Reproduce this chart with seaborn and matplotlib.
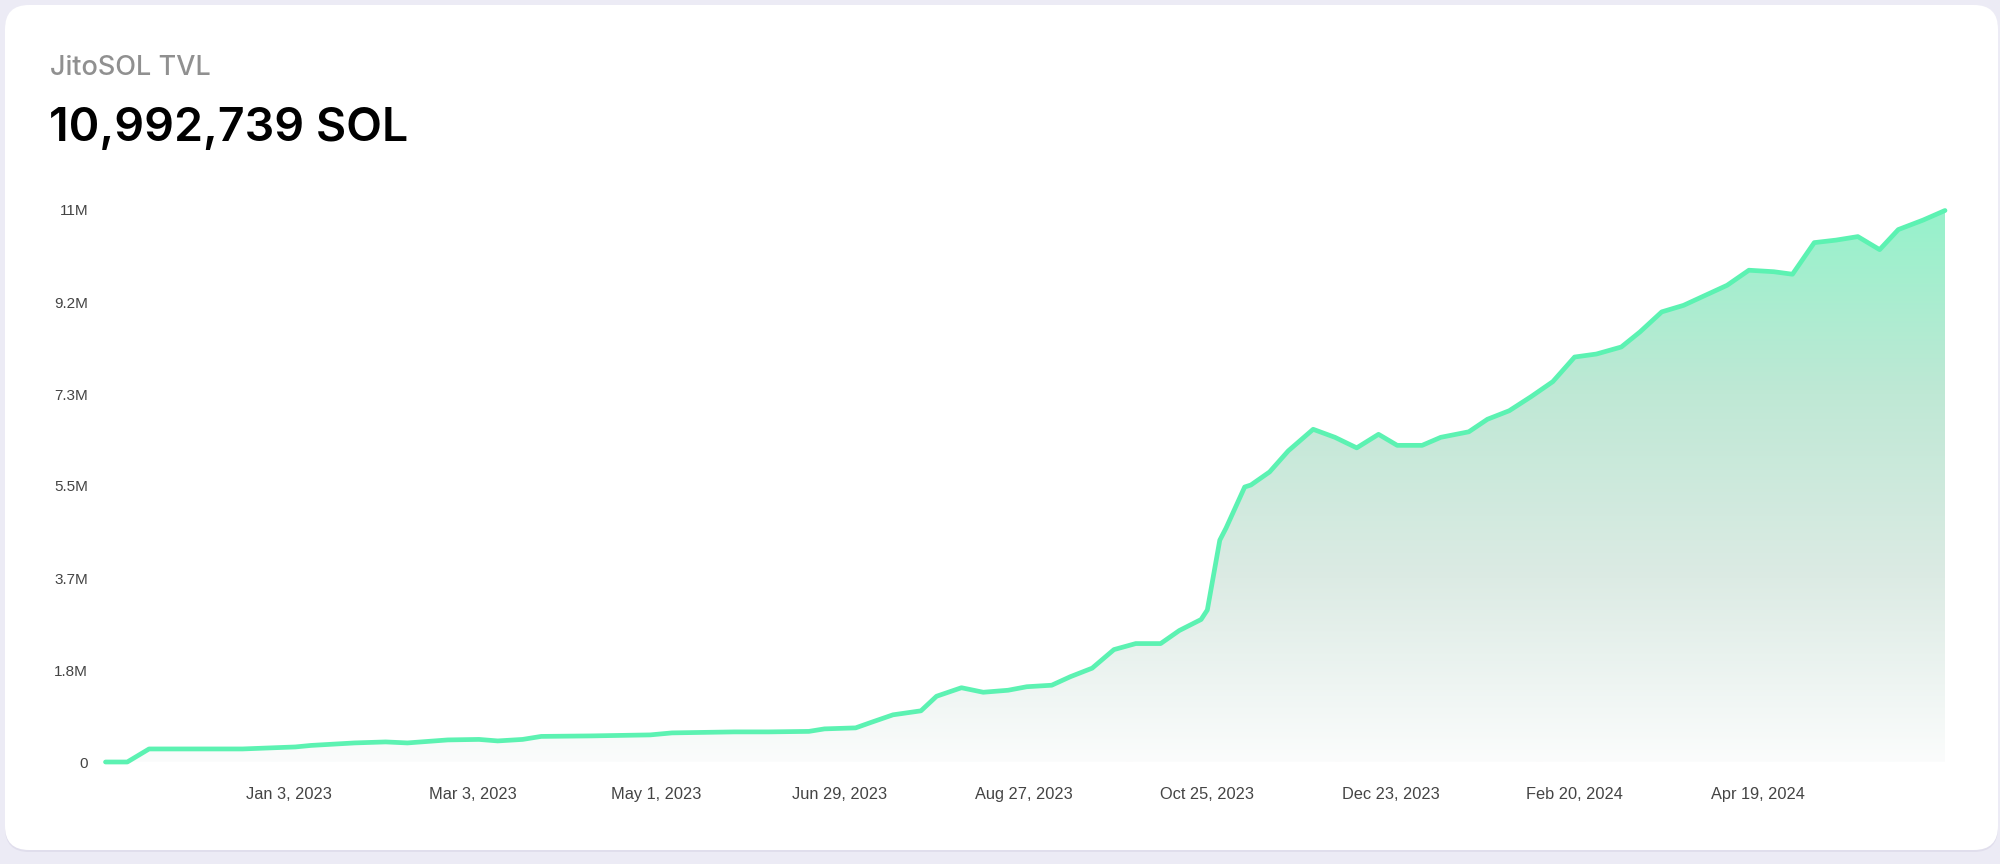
import pandas as pd
import matplotlib
matplotlib.use('Agg')
import matplotlib.pyplot as plt
import matplotlib.dates as mdates
from matplotlib.patches import FancyBboxPatch
from matplotlib.colors import LinearSegmentedColormap
import numpy as np
import seaborn as sns

# JitoSOL TVL (millions of SOL)
dates = ['2022-11-05', '2022-11-12', '2022-11-19', '2022-12-19', '2023-01-05', '2023-01-10',
         '2023-01-24', '2023-02-03', '2023-02-10', '2023-02-23', '2023-03-05', '2023-03-11',
         '2023-03-19', '2023-03-25', '2023-04-10', '2023-04-29', '2023-05-06', '2023-05-26',
         '2023-06-06', '2023-06-19', '2023-06-24', '2023-07-04', '2023-07-09', '2023-07-16',
         '2023-07-25', '2023-07-30', '2023-08-07', '2023-08-14', '2023-08-22', '2023-08-28',
         '2023-09-05', '2023-09-11', '2023-09-18', '2023-09-25', '2023-10-02', '2023-10-10',
         '2023-10-16', '2023-10-23', '2023-10-25', '2023-10-29', '2023-10-31', '2023-11-06',
         '2023-11-08', '2023-11-14', '2023-11-20', '2023-11-28', '2023-12-05', '2023-12-12',
         '2023-12-19', '2023-12-25', '2024-01-02', '2024-01-08', '2024-01-17', '2024-01-23',
         '2024-01-30', '2024-02-06', '2024-02-13', '2024-02-20', '2024-02-27', '2024-03-06',
         '2024-03-12', '2024-03-19', '2024-03-26', '2024-04-02', '2024-04-09', '2024-04-16',
         '2024-04-24', '2024-04-30', '2024-05-07', '2024-05-14', '2024-05-21', '2024-05-28',
         '2024-06-03', '2024-06-11', '2024-06-18']
tvl_m = [0.00, 0.00, 0.26, 0.26, 0.30, 0.33,
         0.38, 0.40, 0.38, 0.44, 0.45, 0.42,
         0.45, 0.51, 0.52, 0.54, 0.58, 0.60,
         0.60, 0.61, 0.66, 0.68, 0.79, 0.94,
         1.02, 1.31, 1.48, 1.39, 1.43, 1.50,
         1.53, 1.70, 1.87, 2.24, 2.36, 2.36,
         2.62, 2.84, 3.03, 4.42, 4.66, 5.48,
         5.52, 5.78, 6.20, 6.63, 6.47, 6.26,
         6.53, 6.31, 6.31, 6.47, 6.58, 6.83,
         7.00, 7.28, 7.58, 8.07, 8.13, 8.27,
         8.57, 8.97, 9.10, 9.30, 9.50, 9.80,
         9.77, 9.72, 10.35, 10.40, 10.47, 10.21,
         10.61, 10.80, 10.99]

tick_dates = ['2023-01-03', '2023-03-03', '2023-05-01', '2023-06-29', '2023-08-27',
              '2023-10-25', '2023-12-23', '2024-02-20', '2024-04-19']
ytick_vals = [0, 11/6, 22/6, 33/6, 44/6, 55/6, 11]
ytick_labels = ['0', '1.8M', '3.7M', '5.5M', '7.3M', '9.2M', '11M']

df = pd.DataFrame({'date': pd.to_datetime(dates), 'tvl': np.array(tvl_m) * 1e6})

sns.set_theme(style='white')
plt.rcParams['font.family'] = ['Liberation Sans', 'DejaVu Sans']

W, H = 2000, 864
fig = plt.figure(figsize=(W / 100, H / 100), dpi=100)
fig.patch.set_facecolor('#ecebf5')

# card in pixel coords
bg = fig.add_axes([0, 0, 1, 1], zorder=0)
bg.set_xlim(0, W)
bg.set_ylim(H, 0)
bg.axis('off')
bg.add_patch(FancyBboxPatch((5, 7), 1993, 845, boxstyle='round,pad=0,rounding_size=24',
                            fc='#dddbea', ec='none', alpha=0.8))
bg.add_patch(FancyBboxPatch((5, 5), 1993, 845, boxstyle='round,pad=0,rounding_size=24',
                            fc='white', ec='none'))
bg.text(50, 75, 'JitoSOL TVL', fontsize=19.5, color='#909090', family=['Inter', 'DejaVu Sans'],
        fontweight='medium', va='baseline', ha='left')
bg.text(49, 141, '10,992,739 SOL', fontsize=33.5, color='black', family=['Inter', 'DejaVu Sans'],
        fontweight='semibold', va='baseline', ha='left')

x0, x1 = 105.5, 1945
y0, y1 = 762, 210
ax = fig.add_axes([x0 / W, (H - y0) / H, (x1 - x0) / W, (y0 - y1) / H], zorder=1)
ax.set_facecolor('none')

line_col = '#5cf2b2'
fill = ax.fill_between(df['date'], df['tvl'], 0, color='none', lw=0)
cmap = LinearSegmentedColormap.from_list('g', ['#fbfcfc', '#dcebe4', '#bfe8d5', '#96f2cb'])
grad = np.linspace(0, 1, 256).reshape(-1, 1)
xd = mdates.date2num(df['date'])
img = ax.imshow(grad, cmap=cmap, aspect='auto', origin='lower',
                extent=[xd[0], xd[-1], 0, 11e6], zorder=1)
img.set_clip_path(fill.get_paths()[0], transform=ax.transData)

sns.lineplot(data=df, x='date', y='tvl', ax=ax, color=line_col, lw=3.4, zorder=3)
for l in ax.lines:
    l.set_clip_on(False)
    l.set_solid_joinstyle('round')
    l.set_solid_capstyle('round')

ax.set_xlim(xd[0], xd[-1])
ax.set_ylim(0, 11e6)
ax.set_xticks(pd.to_datetime(tick_dates))
ax.set_xticklabels([pd.Timestamp(d).strftime('%b ') + str(pd.Timestamp(d).day) + pd.Timestamp(d).strftime(', %Y')
                    for d in tick_dates])
ax.set_yticks(np.array(ytick_vals) * 1e6)
ax.set_yticklabels(ytick_labels)
ax.tick_params(axis='x', length=0, pad=18, labelsize=11.8, labelcolor='#444444')
ax.tick_params(axis='y', length=0, pad=12.5, labelsize=11, labelcolor='#444444')
ax.set_xlabel('')
ax.set_ylabel('')
for s in ax.spines.values():
    s.set_visible(False)

fig.savefig('out.png', dpi=100, facecolor=fig.get_facecolor())
